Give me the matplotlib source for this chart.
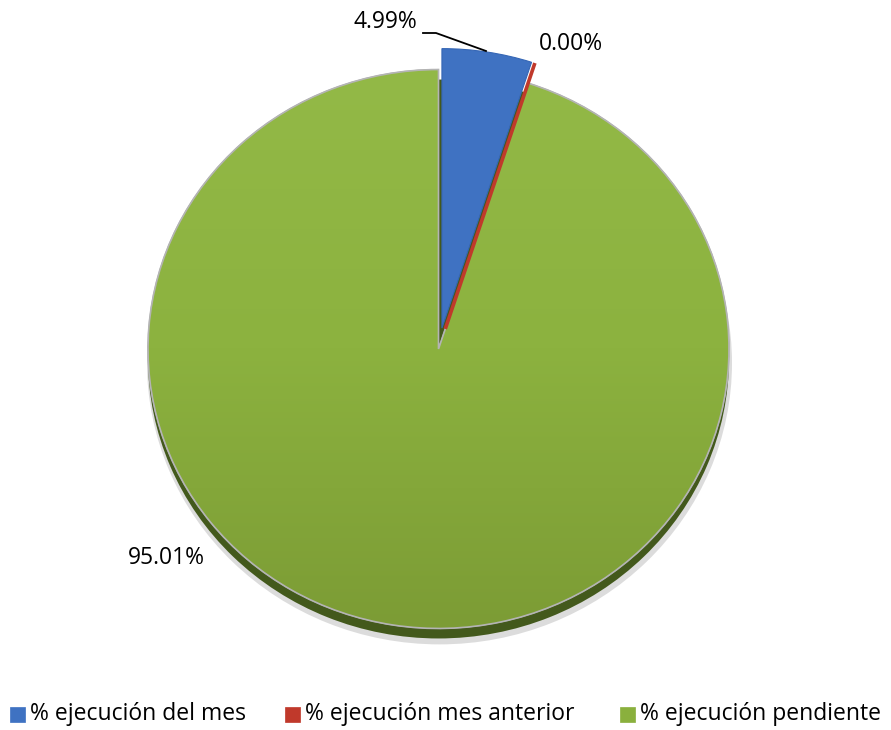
import matplotlib
matplotlib.use("Agg")
import matplotlib.pyplot as plt
import numpy as np
from matplotlib.colors import LinearSegmentedColormap
from matplotlib.patches import PathPatch

categories = ["% ejecución del mes", "% ejecución mes anterior", "% ejecución pendiente"]
values = [4.99, 0.00, 95.01]
labels = [f"{v:.2f}%" for v in values]

colors = ["#3F72C2", "#C0392B", "#8AB03D"]

W, H = 891, 730
fig = plt.figure(figsize=(W / 100, H / 100), dpi=100)
ax = fig.add_axes([0, 0, 1, 1])
sy = 0.962  # vertical squash (perspective)
font = "Open Sans"
fs = 16.5

cx, cy_px, r = 438.5, 349, 290.5
cy = (H - cy_px) / sy
ex = 22
explode = [ex, ex, 0.0]


def P(x, y):
    return x, (H - y) / sy


# soft shadow and dark rim
ax.pie([1], colors=["#dcdcdc"], radius=r + 2, center=(cx + 1, cy - 14 / sy),
       startangle=90, wedgeprops=dict(linewidth=0), frame=True)
ax.pie([1], colors=["#43591C"], radius=r, center=(cx, cy - 10 / sy),
       startangle=90, wedgeprops=dict(linewidth=0), frame=True)

wedges, _ = ax.pie(values, colors=colors, radius=r, center=(cx, cy), startangle=90,
                   counterclock=False, explode=explode, frame=True,
                   wedgeprops=dict(linewidth=0.8, edgecolor="#c8c8c8"))
wedges[0].set_edgecolor("#3566B5")
wedges[1].set_edgecolor(colors[1])
wedges[1].set_linewidth(2.6)
wedges[1].set_zorder(3)
wedges[2].set_edgecolor("#a8a8a8")

# subtle vertical gradient on the large slice
cmap = LinearSegmentedColormap.from_list("g", ["#7C9C35", "#8CB23F", "#93B947"])
grad = np.linspace(0, 1, 256).reshape(-1, 1)
z = wedges[2].get_zorder()
im = ax.imshow(grad, cmap=cmap, extent=(cx - r, cx + r, cy - r, cy + r),
               origin="lower", aspect="auto", zorder=z + 0.1)
im.set_clip_path(wedges[2])
outline = PathPatch(wedges[2].get_path(), transform=wedges[2].get_transform(),
                    facecolor="none", edgecolor="#b4b4b4", lw=1.2, zorder=z + 0.2)
ax.add_patch(outline)

ax.set_xlim(0, W)
ax.set_ylim(0, H / sy)
ax.set_aspect("auto")
ax.axis("off")

ax.plot(*zip(P(423, 33), P(436, 33), P(486, 51)), color="black", lw=1.3)
ax.text(*P(385, 22), labels[0], ha="center", va="center", fontsize=fs, family=font)
ax.text(*P(571, 44), labels[1], ha="center", va="center", fontsize=fs, family=font)
ax.text(*P(166, 558), labels[2], ha="center", va="center", fontsize=fs, family=font)

# legend (manual, Excel-like equal spacing)
leg_sq = [10, 285, 620]
leg_y = 714
for c, x0, name in zip(colors, leg_sq, categories):
    fig.patches.append(plt.Rectangle((x0 / W, 1 - (leg_y + 8) / H), 15 / W, 15 / H,
                                     transform=fig.transFigure, facecolor=c,
                                     edgecolor=c, lw=0.5))
    fig.text((x0 + 20) / W, 1 - leg_y / H, name, ha="left", va="center",
             fontsize=fs, family=font)

fig.savefig("out.png", dpi=100)
